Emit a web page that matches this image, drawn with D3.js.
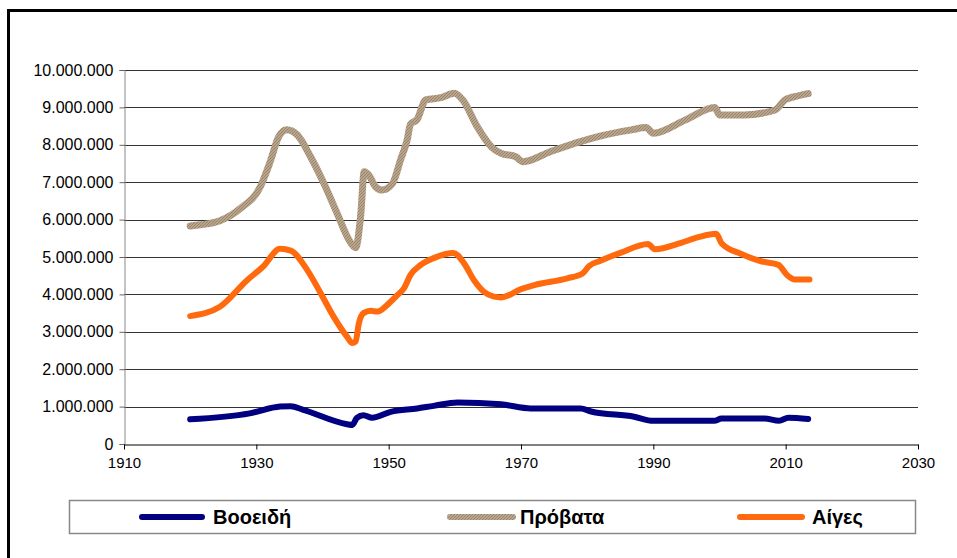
<!DOCTYPE html>
<html><head><meta charset="utf-8">
<script src="https://cdn.jsdelivr.net/npm/d3@7"></script>
<style>body{margin:0;background:#fff}svg{display:block;font-family:"Liberation Sans",Arial,sans-serif}</style>
</head><body><svg id="c" width="957" height="558"></svg>
<script>
const seriesNames = ["Βοοειδή", "Πρόβατα", "Αίγες"];
const xTicks = [1910, 1930, 1950, 1970, 1990, 2010, 2030];
const yTicks = [0,1e6,2e6,3e6,4e6,5e6,6e6,7e6,8e6,9e6,10e6];

const cattleYears = [1920,1929,1933.6,1935.2,1937,1943.7,1944.5,1945.2,1946.2,1947.5,1950.3,1954.3,1956.8,1960.4,1967,1971.5,1979,1980.6,1987.1,1990,1999.2,2000.3,2006.8,2009,2010.4,2013.4];
const cattleValues = [0.66,0.82,1.0,1.01,0.92,0.53,0.51,0.70,0.77,0.70,0.86,0.95,1.02,1.11,1.06,0.95,0.95,0.87,0.73,0.62,0.62,0.68,0.68,0.62,0.70,0.67];

const sheepYears = [1920,1921.5,1924.5,1927.6,1930.6,1932.1,1933.4,1934.6,1936.2,1938.2,1940.2,1942.2,1944.2,1945,1945.8,1946.3,1947,1948,1949,1950.6,1951.8,1952.8,1953.3,1954.3,1955.6,1957.9,1959.9,1961.2,1963.4,1965.5,1967,1969.2,1970.3,1974.5,1979.1,1982.1,1986.7,1988.9,1990,1994.8,1999.3,2000,2003.8,2008.4,2009.9,2011.4,2013.4];
const sheepValues = [5.83,5.86,5.97,6.30,6.88,7.55,8.22,8.40,8.26,7.68,6.97,6.17,5.40,5.25,6.17,7.28,7.19,6.88,6.79,6.97,7.60,8.13,8.55,8.68,9.20,9.26,9.38,9.20,8.48,7.95,7.77,7.68,7.55,7.82,8.09,8.24,8.40,8.46,8.31,8.66,9.0,8.80,8.80,8.93,9.20,9.29,9.37];

const goatYears = [1920,1924.5,1928.6,1931,1933.6,1935.2,1937.7,1939.7,1941.7,1943.7,1944.5,1945,1945.5,1946.2,1947.3,1948.3,1949.8,1951.3,1952.3,1953.3,1954.8,1956.8,1959.8,1961.4,1962.9,1964.4,1965.9,1967,1970,1972,1977,1979.3,1980.3,1982,1985,1989.2,1990.2,1994.2,1996.8,1999.5,2000.3,2003.3,2006.4,2008.9,2010.2,2011.4,2013.6];
const goatValues = [3.42,3.67,4.38,4.74,5.22,5.17,4.65,4.04,3.40,2.87,2.70,2.74,3.23,3.50,3.56,3.54,3.72,3.98,4.16,4.52,4.78,4.97,5.11,4.83,4.38,4.07,3.94,3.92,4.14,4.25,4.43,4.56,4.76,4.90,5.11,5.35,5.21,5.38,5.53,5.62,5.37,5.08,4.88,4.79,4.52,4.40,4.40];

const colors = ["#000080", "url(#sheepPat)", "#FF6A0E"];

const svg = d3.select("#c");
const defs = svg.append("defs");
const pat = defs.append("pattern").attr("id","sheepPat").attr("patternUnits","userSpaceOnUse").attr("width",3).attr("height",3);
pat.append("rect").attr("width",3).attr("height",3).attr("fill","#B9A58D");
pat.append("path").attr("d","M0,3L3,0").attr("stroke","#9A846A").attr("stroke-width",1);

// outer frame
svg.append("rect").attr("x",8.5).attr("y",10.5).attr("width",1000).attr("height",600)
  .attr("fill","none").attr("stroke","#000").attr("stroke-width",3);

const x = d3.scaleLinear().domain([1910,2030]).range([124,918]);
const y = d3.scaleLinear().domain([0,10e6]).range([444,70]);

// gridlines
svg.append("g").selectAll("line").data(yTicks.filter(d=>d>0)).join("line")
  .attr("x1",124).attr("x2",918).attr("y1",d=>Math.round(y(d))+0.5).attr("y2",d=>Math.round(y(d))+0.5)
  .attr("stroke","#333").attr("stroke-width",1);

const fmt = v => v===0 ? "0" : d3.format(",")(v).replace(/,/g,".");
const yAxis = svg.append("g").attr("transform","translate(124.5,0)")
  .call(d3.axisLeft(y).tickValues(yTicks).tickFormat(fmt).tickSize(5).tickPadding(6));
yAxis.select(".domain").attr("stroke","#888");
yAxis.selectAll(".tick line").attr("stroke","#666");
yAxis.selectAll("text").attr("font-size",16).attr("fill","#000").attr("font-family","Liberation Sans, Arial");

const xAxis = svg.append("g").attr("transform","translate(0,444.5)")
  .call(d3.axisBottom(x).tickValues(xTicks).tickFormat(d3.format("d")).tickSize(5).tickSizeOuter(0).tickPadding(8));
xAxis.select(".domain").attr("stroke","#000");
xAxis.selectAll(".tick line").attr("stroke","#000");
xAxis.selectAll("text").attr("font-size",15).attr("fill","#000").attr("font-family","Liberation Sans, Arial");

const series = [
  {years: cattleYears, values: cattleValues, w: 6},
  {years: sheepYears, values: sheepValues, w: 7},
  {years: goatYears, values: goatValues, w: 6}
];
const line = d3.line().x(d=>x(d[0])).y(d=>y(d[1]*1e6)).curve(d3.curveMonotoneX);
[1,2,0].forEach(i=>{
  const s = series[i];
  svg.append("path").datum(s.years.map((yr,j)=>[yr,s.values[j]]))
    .attr("d",line).attr("fill","none").attr("stroke",colors[i]).attr("stroke-width",s.w)
    .attr("stroke-linejoin","round").attr("stroke-linecap","round");
});

// legend
svg.append("rect").attr("x",69.5).attr("y",500.5).attr("width",846).attr("height",33)
  .attr("fill","#fff").attr("stroke","#888").attr("stroke-width",1.5);
const legX = [[142,202,213],[450,513,520],[740,802,812]];
seriesNames.forEach((n,i)=>{
  svg.append("line").attr("x1",legX[i][0]).attr("x2",legX[i][1]).attr("y1",517).attr("y2",517)
    .attr("stroke",colors[i]).attr("stroke-width",6).attr("stroke-linecap","round");
  svg.append("text").attr("x",legX[i][2]).attr("y",524).text(n)
    .attr("font-size",20).attr("font-weight","bold").attr("fill","#000");
});
</script></body></html>
